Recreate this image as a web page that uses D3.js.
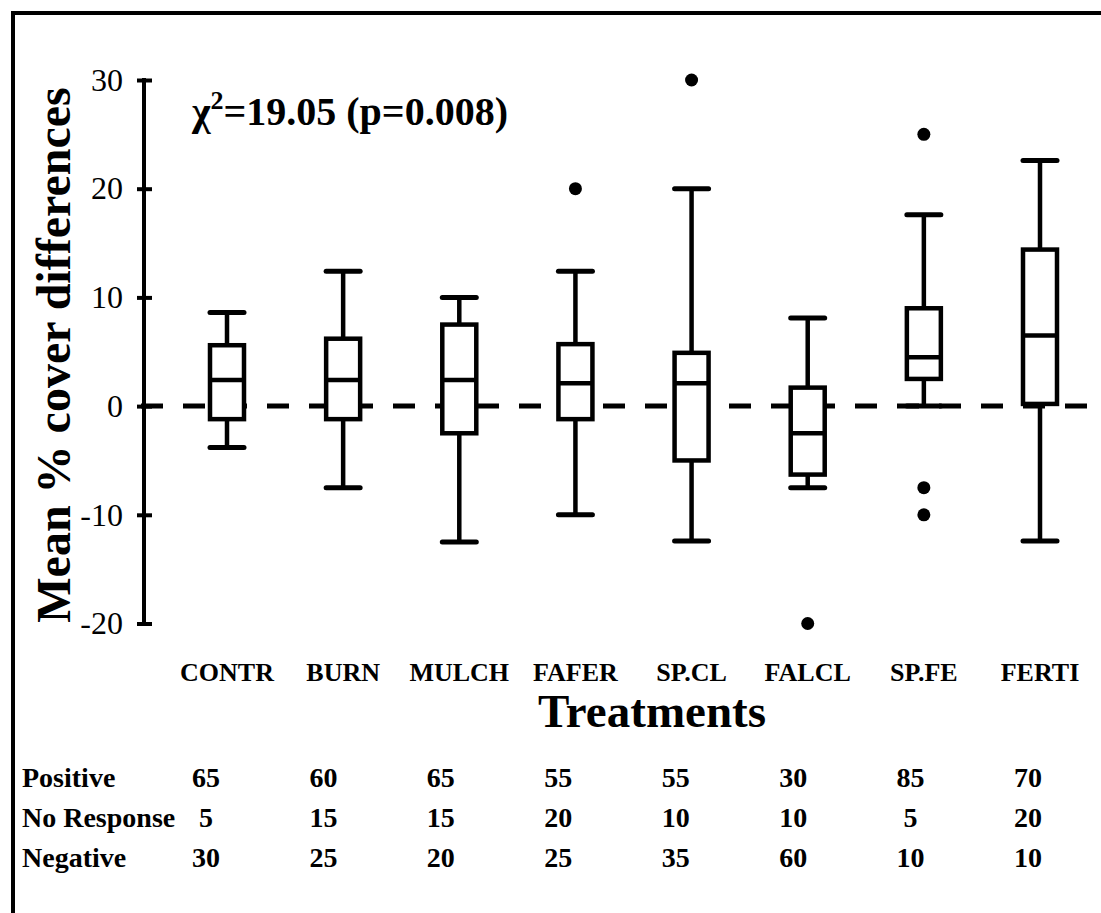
<!DOCTYPE html>
<html>
<head>
<meta charset="utf-8">
<script src="https://cdn.jsdelivr.net/npm/d3@7"></script>
<style>
body { margin: 0; background: #fff; }
text { font-family: "Liberation Serif", "Times New Roman", serif; fill: #000; }
</style>
</head>
<body>
<svg width="1101" height="913"></svg>
<script>
var categories = ['CONTR', 'BURN', 'MULCH', 'FAFER', 'SP.CL', 'FALCL', 'SP.FE', 'FERTI'];
var whiskerLow = [-3.8, -7.5, -12.5, -10, -12.4, -7.5, 0, -12.4];
var quartile1 = [-1.2, -1.2, -2.5, -1.2, -5, -6.3, 2.5, 0.2];
var medians = [2.4, 2.4, 2.4, 2.1, 2.1, -2.5, 4.5, 6.5];
var quartile3 = [5.6, 6.2, 7.5, 5.7, 4.9, 1.7, 9, 14.4];
var whiskerHigh = [8.6, 12.4, 10, 12.4, 20, 8.1, 17.6, 22.6];
var outliers = [[], [], [], [20], [30], [-20], [25, -7.5, -10], []];
var yTicks = [-20, -10, 0, 10, 20, 30];
var rowLabels = ['Positive', 'No Response', 'Negative'];
var positive = [65, 60, 65, 55, 55, 30, 85, 70];
var noResponse = [5, 15, 15, 20, 10, 10, 5, 20];
var negative = [30, 25, 20, 25, 35, 60, 10, 10];

var svg = d3.select('svg');
var axisX = 144;
var boxWidth = 34;
var capWidth = 38;

var y = d3.scaleLinear().domain([-20, 30]).range([623.5, 80]);
var x = d3.scalePoint().domain(categories).range([227, 1040]);
// table numbers sit a little left of the boxes
var colX = d3.scalePoint().domain(categories).range([206, 1028]);

// frame (only top and left edges show in the picture)
svg.append('path')
  .attr('d', 'M13,913 L13,13 L1101,13')
  .attr('fill', 'none')
  .attr('stroke', '#000')
  .attr('stroke-width', 4);

// zero reference line
svg.append('line')
  .attr('x1', axisX - 3).attr('x2', 1101)
  .attr('y1', y(0)).attr('y2', y(0))
  .attr('stroke', '#000')
  .attr('stroke-width', 5)
  .attr('stroke-dasharray', '22,20');

// y axis
var yAxis = d3.axisLeft(y)
  .tickValues(yTicks)
  .tickSize(7)
  .tickPadding(14)
  .tickFormat(function(d) { return String(d); });
var yAxisGroup = svg.append('g')
  .attr('transform', 'translate(' + axisX + ',0)')
  .call(yAxis);
yAxisGroup.select('.domain').remove();
yAxisGroup.selectAll('.tick line')
  .attr('x1', 8)
  .attr('stroke-width', 4);
yAxisGroup.selectAll('.tick text')
  .style('font-family', '"Liberation Serif", serif')
  .style('font-size', '32px');
yAxisGroup.append('line')
  .attr('y1', y(30) - 2).attr('y2', y(-20) + 2)
  .attr('stroke', '#000')
  .attr('stroke-width', 4);

// boxes
var boxes = svg.selectAll('g.box').data(categories).enter().append('g')
  .attr('class', 'box')
  .attr('transform', function(d) { return 'translate(' + x(d) + ',0)'; });

boxes.append('line')
  .attr('y1', function(d, i) { return y(whiskerLow[i]); })
  .attr('y2', function(d, i) { return y(whiskerHigh[i]); })
  .attr('stroke', '#000')
  .attr('stroke-width', 4.5);

boxes.each(function(d, i) {
  var g = d3.select(this);
  [whiskerLow[i], whiskerHigh[i]].forEach(function(v) {
    g.append('line')
      .attr('x1', -capWidth / 2 + 2).attr('x2', capWidth / 2 - 2)
      .attr('y1', y(v)).attr('y2', y(v))
      .attr('stroke', '#000')
      .attr('stroke-width', 5)
      .attr('stroke-linecap', 'round');
  });
});

boxes.append('rect')
  .attr('x', -boxWidth / 2)
  .attr('width', boxWidth)
  .attr('y', function(d, i) { return y(quartile3[i]); })
  .attr('height', function(d, i) { return y(quartile1[i]) - y(quartile3[i]); })
  .attr('fill', '#fff')
  .attr('stroke', '#000')
  .attr('stroke-width', 4.5);

boxes.append('line')
  .attr('x1', -boxWidth / 2).attr('x2', boxWidth / 2)
  .attr('y1', function(d, i) { return y(medians[i]); })
  .attr('y2', function(d, i) { return y(medians[i]); })
  .attr('stroke', '#000')
  .attr('stroke-width', 4.5);

boxes.each(function(d, i) {
  d3.select(this).selectAll('circle').data(outliers[i]).enter().append('circle')
    .attr('cx', 0)
    .attr('cy', function(v) { return y(v); })
    .attr('r', 6.5)
    .attr('fill', '#000');
});

// chi-square note
var chi = svg.append('text')
  .attr('x', 192)
  .attr('y', 125)
  .style('font-size', '40px')
  .style('font-weight', 'bold');
chi.append('tspan').text('\u03c7');
chi.append('tspan').attr('dy', -16).style('font-size', '26px').text('2');
chi.append('tspan').attr('dy', 16).text('=19.05 (p=0.008)');

// y title
svg.append('text')
  .attr('transform', 'translate(70,355) rotate(-90)')
  .attr('text-anchor', 'middle')
  .style('font-size', '48px')
  .style('font-weight', 'bold')
  .text('Mean % cover differences');

// category labels
svg.selectAll('text.cat').data(categories).enter().append('text')
  .attr('class', 'cat')
  .attr('x', function(d) { return x(d); })
  .attr('y', 681)
  .attr('text-anchor', 'middle')
  .style('font-size', '26px')
  .style('font-weight', 'bold')
  .text(function(d) { return d; });

svg.append('text')
  .attr('x', 652)
  .attr('y', 727)
  .attr('text-anchor', 'middle')
  .style('font-size', '47px')
  .style('font-weight', 'bold')
  .text('Treatments');

// response table
var rows = [positive, noResponse, negative];
var rowY = [787, 827, 867];
rows.forEach(function(vals, r) {
  svg.append('text')
    .attr('x', 22)
    .attr('y', rowY[r])
    .style('font-size', '28px')
    .style('font-weight', 'bold')
    .text(rowLabels[r]);
  svg.selectAll('text.row' + r).data(vals).enter().append('text')
    .attr('class', 'row' + r)
    .attr('x', function(d, i) { return colX(categories[i]); })
    .attr('y', rowY[r])
    .attr('text-anchor', 'middle')
    .style('font-size', '28px')
    .style('font-weight', 'bold')
    .text(function(d) { return d; });
});
</script>
</body>
</html>
